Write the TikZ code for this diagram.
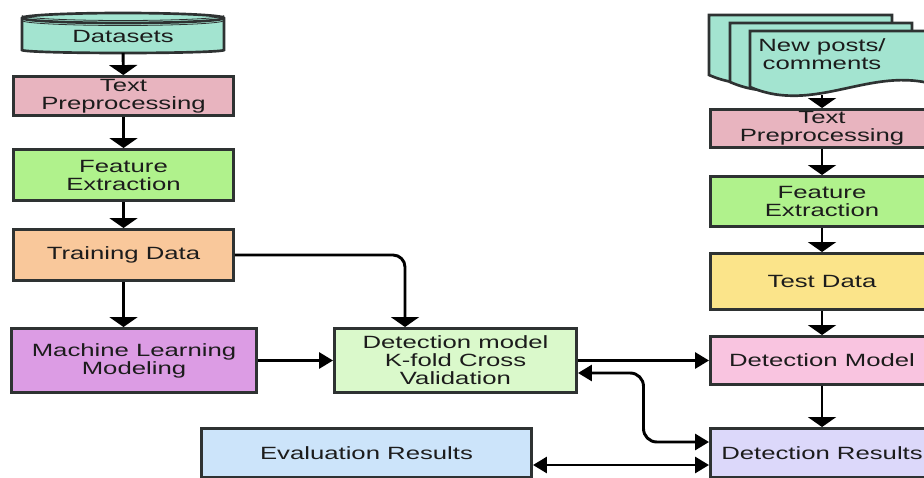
\documentclass[tikz,border=0pt]{standalone}
\usepackage{fontspec}
\setmainfont{Liberation Sans}[FakeStretch=1.45]
\usetikzlibrary{arrows.meta,calc}

\definecolor{edge}{HTML}{2E3232}
\definecolor{txt}{HTML}{1C1C1C}
\definecolor{cyl}{HTML}{A3E4D0}
\definecolor{prep}{HTML}{E8B4BF}
\definecolor{feat}{HTML}{B0F28C}
\definecolor{train}{HTML}{F9C89B}
\definecolor{mlc}{HTML}{DC9CE4}
\definecolor{kfold}{HTML}{DAF9CB}
\definecolor{evalc}{HTML}{CCE4FA}
\definecolor{testc}{HTML}{FBE48A}
\definecolor{detm}{HTML}{F9C4E0}
\definecolor{detr}{HTML}{DCD8FA}

\begin{document}
\begin{tikzpicture}[x=0.75pt,y=-0.75pt,
    box/.style={draw=edge,line width=2.2pt,align=center,inner sep=0pt,text=txt,
        font=\fontsize{13.3}{13.5}\selectfont},
    sz/.style 2 args={minimum width={(#1-3)*0.75pt},minimum height={(#2-3)*0.75pt}},
    link/.style={line width=2.2pt,draw=black},
    varrow/.style={link,-{Triangle[length=7.5pt,width=21pt]}},
    harrow/.style={link,-{Triangle[length=10.5pt,width=12pt]}},
    both/.style={link,{Triangle[length=10.5pt,width=12pt]}-{Triangle[length=10.5pt,width=12pt]}}]
\useasboundingbox (0,0) rectangle (924,478);
\clip (0,0) rectangle (924,478);

% datasets cylinder
\filldraw[fill=cyl,draw=edge,line width=2pt] (22,50)
    arc[start angle=180,end angle=360,x radius=75.75pt,y radius=2.25pt] -- (224,18)
    arc[start angle=0,end angle=180,x radius=75.75pt,y radius=3.75pt] -- cycle;
\draw[edge,line width=2pt] (22,18) arc[start angle=180,end angle=360,x radius=75.75pt,y radius=3.75pt];
\draw[edge,line width=0.6pt] (22,20.5) arc[start angle=180,end angle=360,x radius=75.75pt,y radius=3.75pt];
\draw[edge,line width=0.6pt] (22,15.5) arc[start angle=180,end angle=360,x radius=75.75pt,y radius=3.75pt];
\node[box,draw=none,sz={202}{34}] (data) at (123,36) {Datasets};

% left column
\node[box,fill=prep,sz={223}{42}] (tpL) at (123.5,96) {Text\\Preprocessing};
\node[box,fill=feat,sz={223}{54}] (feL) at (123.5,175) {Feature\\Extraction};
\node[box,fill=train,sz={223}{54}] (trn) at (123.5,255) {Training Data};
\node[box,fill=mlc,sz={248}{67}] (mlm) at (134,360.5) {Machine Learning\\Modeling};
\node[box,fill=kfold,sz={245}{67}] (dmv) at (455.5,360.5) {Detection model\\K-fold Cross\\Validation};
\node[box,fill=evalc,sz={333}{52}] (evr) at (366.5,453) {Evaluation Results};

% new posts, stacked sheets
\foreach \l/\t/\r/\b in {709/15/892/75, 730/23/912/82, 750/31/936/87}
  \filldraw[fill=cyl,draw=edge,line width=2pt] (\l,\b)
      .. controls ({\l+0.35*(\r-\l)},\b+28) and ({\l+0.65*(\r-\l)},\b-22) .. (\r,\b-2)
      -- (\r,\t) -- (\l,\t) -- cycle;
\node[box,draw=none] (new) at (822,54) {New posts/\\comments};
\coordinate (newbot) at (822,95);

% right column
\node[box,fill=prep,sz={226}{41}] (tpR) at (822,128.5) {Text\\Preprocessing};
\node[box,fill=feat,sz={226}{53}] (feR) at (822,201.5) {Feature\\Extraction};
\node[box,fill=testc,sz={226}{59}] (tst) at (822,281.5) {Test Data};
\node[box,fill=detm,sz={226}{51}] (dmR) at (822,360.5) {Detection Model};
\node[box,fill=detr,sz={226}{52}] (drs) at (822,453) {Detection Results};

% connectors
\draw[varrow] (data) -- (tpL);
\draw[varrow] (tpL) -- (feL);
\draw[varrow] (feL) -- (trn);
\draw[varrow] (trn) -- (trn |- mlm.north);
\draw[varrow,rounded corners=9pt] (trn.east) -| ($(dmv.north)+(-50.5,0)$);
\draw[harrow] (mlm) -- (dmv);
\draw[harrow] (dmv) -- (dmR);
\draw[varrow] (newbot) -- (tpR);
\draw[varrow] (tpR) -- (feR);
\draw[varrow] (feR) -- (tst);
\draw[varrow] (tst) -- (dmR);
\draw[varrow] (dmR) -- (drs);
\draw[both,rounded corners=10pt] ($(dmv.east)+(0,12.5)$) -| ($(dmv.east)!.5!(drs.west)$)
    |- ($(drs.west)+(0,-11)$);
\draw[both] ($(evr.east)+(0,12)$) -- ($(drs.west)+(0,12)$);
\end{tikzpicture}
\end{document}
